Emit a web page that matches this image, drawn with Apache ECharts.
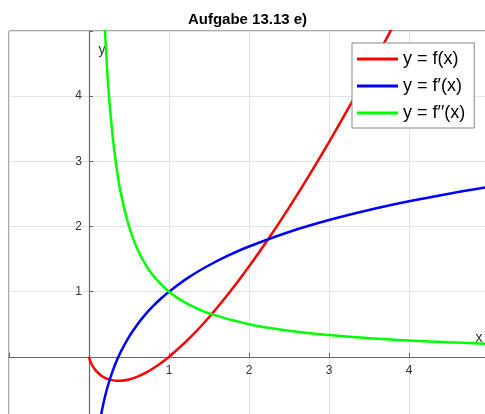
<!DOCTYPE html>
<html>
<head>
<meta charset="utf-8">
<script src="https://cdn.jsdelivr.net/npm/echarts@6/dist/echarts.min.js"></script>
<style>
  html, body { margin: 0; padding: 0; background: #fff; }
  #chart { width: 485px; height: 414px; }
</style>
</head>
<body>
<div id="chart"></div>
<script>
// f(x) = x·ln(x)
const fX = [0, 0.002, 0.005, 0.01, 0.02, 0.035, 0.05, 0.075, 0.1, 0.15, 0.2, 0.25, 0.3, 0.35, 0.4, 0.5, 0.6, 0.7, 0.8, 0.9, 1.0,
            1.25, 1.5, 1.75, 2.0, 2.25, 2.5, 2.75, 3.0, 3.25, 3.5, 3.75, 4.0];
const fY = [0, -0.0124, -0.0265, -0.0461, -0.0782, -0.1173, -0.1498, -0.1943, -0.2303, -0.2846, -0.3219, -0.3466,
            -0.3612, -0.3674, -0.3665, -0.3466, -0.3065, -0.2497, -0.1785, -0.0948, 0,
            0.2789, 0.6082, 0.9793, 1.3863, 1.8246, 2.2907, 2.7819, 3.2958, 3.8307, 4.3846, 4.9566, 5.5452];

// f'(x) = ln(x) + 1
const dX = [0.1, 0.12, 0.15, 0.2, 0.25, 0.3, 0.35, 0.4, 0.5, 0.6, 0.7, 0.8, 0.9, 1.0,
            1.25, 1.5, 1.75, 2.0, 2.5, 3.0, 3.5, 4.0, 4.5, 5.0];
const dY = [-1.3026, -1.1203, -0.8971, -0.6094, -0.3863, -0.2040, -0.0498, 0.0837, 0.3069, 0.4892, 0.6433,
            0.7769, 0.8946, 1.0, 1.2231, 1.4055, 1.5596, 1.6931, 1.9163, 2.0986, 2.2528, 2.3863, 2.5041, 2.6094];

// f''(x) = 1/x
const ddX = [0.18, 0.2, 0.22, 0.25, 0.3, 0.35, 0.4, 0.5, 0.6, 0.7, 0.8, 1.0, 1.25, 1.5, 2.0, 2.5, 3.0, 3.5, 4.0, 4.5, 5.0];
const ddY = [5.5556, 5.0, 4.5455, 4.0, 3.3333, 2.8571, 2.5, 2.0, 1.6667, 1.4286, 1.25, 1.0, 0.8, 0.6667,
             0.5, 0.4, 0.3333, 0.2857, 0.25, 0.2222, 0.2];

const xTicks = [1, 2, 3, 4];
const yTicks = [1, 2, 3, 4];
const seriesNames = ['y = f(x)', 'y = f\u2032(x)', 'y = f\u2032\u2032(x)'];
const titleText = 'Aufgabe 13.13 e)';

const zip = (xs, ys) => xs.map((x, i) => [x, ys[i]]);
const FONT = '"Liberation Sans", Arial, Helvetica, sans-serif';

// plot area: x from -1..5, y from -1..5; axes cross at the origin
const GRID = { left: 9, top: 31, width: 480, height: 391 };
const X_MIN = -1, X_MAX = 5, Y_MIN = -1, Y_MAX = 5;
const xZeroShift = -GRID.width * (0 - X_MIN) / (X_MAX - X_MIN);
const yZeroShift = -GRID.height * (0 - Y_MIN) / (Y_MAX - Y_MIN);

const chart = echarts.init(document.getElementById('chart'), null, { renderer: 'canvas' });

function axisCommon(ticks, min, max, margin) {
  return {
    type: 'value',
    min, max, interval: 1,
    axisLine: { show: true, onZero: false, lineStyle: { color: '#666', width: 1.2 } },
    axisTick: { show: true, inside: true, length: 4, lineStyle: { color: '#666' } },
    axisLabel: {
      color: '#333', fontSize: 12, fontFamily: FONT, margin,
      formatter: v => (ticks.indexOf(v) >= 0 ? String(v) : '')
    },
    splitLine: { show: true, lineStyle: { color: '#e4e4e4', width: 1 } }
  };
}

const lineSeries = (name, data, color) => ({
  name, type: 'line', data,
  smooth: 0.4,
  showSymbol: false, symbol: 'none',
  lineStyle: { color, width: 2.5 },
  itemStyle: { color },
  clip: true, z: 3
});

chart.setOption({
  animation: false,
  backgroundColor: '#fff',
  grid: Object.assign({
    show: true, borderColor: '#555', borderWidth: 1, backgroundColor: '#fff',
    containLabel: false, outerBoundsMode: 'none'
  }, GRID),
  xAxis: Object.assign(axisCommon(xTicks, X_MIN, X_MAX, 8), { position: 'bottom', offset: yZeroShift }),
  yAxis: Object.assign(axisCommon(yTicks, Y_MIN, Y_MAX, 7), { position: 'left', offset: xZeroShift }),
  legend: {
    orient: 'vertical',
    left: 352, top: 43,
    padding: [7, 9, 6, 5],
    itemGap: 9,
    itemWidth: 41, itemHeight: 3,
    icon: 'rect',
    backgroundColor: '#fff',
    borderColor: '#888', borderWidth: 1,
    textStyle: { fontSize: 18, color: '#000', fontFamily: FONT },
    data: seriesNames
  },
  series: [
    lineSeries(seriesNames[0], zip(fX, fY), '#ff0000'),
    lineSeries(seriesNames[1], zip(dX, dY), '#0000ff'),
    lineSeries(seriesNames[2], zip(ddX, ddY), '#00ff00')
  ],
  graphic: [
    { type: 'text', x: 247.5, y: 20, style: { text: titleText, font: 'bold 15px ' + FONT, fill: '#000', textAlign: 'center', textVerticalAlign: 'middle' } },
    { type: 'text', x: 102, y: 50, style: { text: 'y', font: '14px ' + FONT, fill: '#333', textAlign: 'center', textVerticalAlign: 'middle' } },
    { type: 'text', x: 479, y: 338, style: { text: 'x', font: '14px ' + FONT, fill: '#333', textAlign: 'center', textVerticalAlign: 'middle' } }
  ]
});
</script>
</body>
</html>
